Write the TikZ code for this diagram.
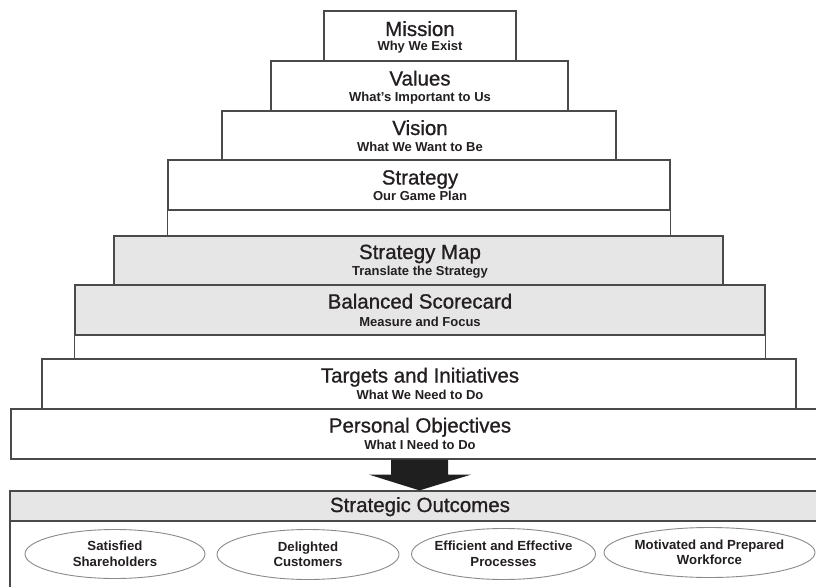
\documentclass[tikz,border=0pt]{standalone}
\usepackage{fontspec}
\setmainfont{Liberation Sans}
\newfontfamily\titlefont[FakeBold=0.9]{Liberation Sans}
\usetikzlibrary{shapes.geometric,calc}
\definecolor{ink}{HTML}{231F20}
\definecolor{edge}{HTML}{4A4A4A}
\definecolor{band}{HTML}{E6E6E6}
\definecolor{ring}{HTML}{8A8A8A}
\begin{document}
\begin{tikzpicture}[x=1pt,y=-1pt,
  tier/.style={draw=edge, line width=1.2pt, fill=white, inner sep=0pt, minimum height=50},
  shaded/.style={tier, fill=band},
  ttl/.style={anchor=base, font=\titlefont\fontsize{20.5}{24}\selectfont, text=ink, inner sep=0pt},
  sub/.style={anchor=base, font=\bfseries\fontsize{13}{15}\selectfont, text=ink, inner sep=0pt},
  goal/.style={ellipse, draw=ring, line width=0.9pt, fill=white, inner xsep=-14pt, inner ysep=0pt,
    minimum width=182, minimum height=49, align=center,
    font=\bfseries\fontsize{13.2}{15.5}\selectfont, text=ink},
  joint/.style={draw=edge, line width=1.2pt}]
\useasboundingbox (0,0) rectangle (816,586);
\begin{scope}
\clip (0,0) rectangle (816,586);
% tiers
\node[tier, minimum width=192] (mission) at (420,36) {};
\node[tier, minimum width=297] (values) at (419.5,86) {};
\node[tier, minimum width=394, minimum height=49] (vision) at (419,135.5) {};
\node[tier, minimum width=502] (strategy) at (419,185) {};
\node[shaded, minimum width=609, minimum height=49] (smap) at (418.5,260.5) {};
\node[shaded, minimum width=690] (bsc) at (420,310) {};
\node[tier, minimum width=754] (targets) at (419,384) {};
\node[tier, minimum width=818] (personal) at (420,434) {};
% joints between tiers
\draw[joint] (strategy.south west) -- (strategy.south west |- smap.north);
\draw[joint] (strategy.south east) -- (strategy.south east |- smap.north);
\draw[joint] (bsc.south west) -- (bsc.south west |- targets.north);
\draw[joint] (bsc.south east) -- (bsc.south east |- targets.north);
% outcomes panel
\node[tier, minimum width=820, minimum height=80] (outbody) at (420,561) {};
\node[shaded, minimum width=820, minimum height=30] (outhead) at (420,506) {};
% arrow
\fill[black!88] ($(personal.south)+(-29,0)$) -- ++(57,0) -- ++(0,15) -- ++(23,0)
  -- ($(outhead.north)+(-0.5,0)$) -- ($(personal.south)+(-51,15)$) -- ($(personal.south)+(-29,15)$) -- cycle;
% titles
\node[ttl] (missionT) at (420,36) {Mission};
\node[sub] (missionS) at (420,51) {Why We Exist};
\node[ttl] (valuesT) at (420,85.5) {Values};
\node[sub] (valuesS) at (420,101) {What’s Important to Us};
\node[ttl] (visionT) at (420,135) {Vision};
\node[sub] (visionS) at (420,151) {What We Want to Be};
\node[ttl] (strategyT) at (420,184.5) {Strategy};
\node[sub] (strategyS) at (420,200) {Our Game Plan};
\node[ttl] (smapT) at (420,259) {Strategy Map};
\node[sub] (smapS) at (420,275) {Translate the Strategy};
\node[ttl] (bscT) at (420,308.5) {Balanced Scorecard};
\node[sub] (bscS) at (420,326) {Measure and Focus};
\node[ttl] (targetsT) at (420,382.5) {Targets and Initiatives};
\node[sub] (targetsS) at (420,399) {What We Need to Do};
\node[ttl] (personalT) at (420,432.5) {Personal Objectives};
\node[sub] (personalS) at (420,449) {What I Need to Do};
\node[ttl] (outT) at (420,512) {Strategic Outcomes};
% outcome ellipses
\node[goal, minimum width=180] (g1) at (115,554) {Satisfied\\Shareholders};
\node[goal, minimum width=182, minimum height=50] (g2) at (308,554.5) {Delighted\\Customers};
\node[goal, minimum width=184, minimum height=51] (g3) at (503.5,554) {Efficient and Effective\\Processes};
\node[goal, minimum width=211, minimum height=50] (g4) at (709.5,552.5) {Motivated and Prepared\\Workforce};
\end{scope}
\end{tikzpicture}
\end{document}
